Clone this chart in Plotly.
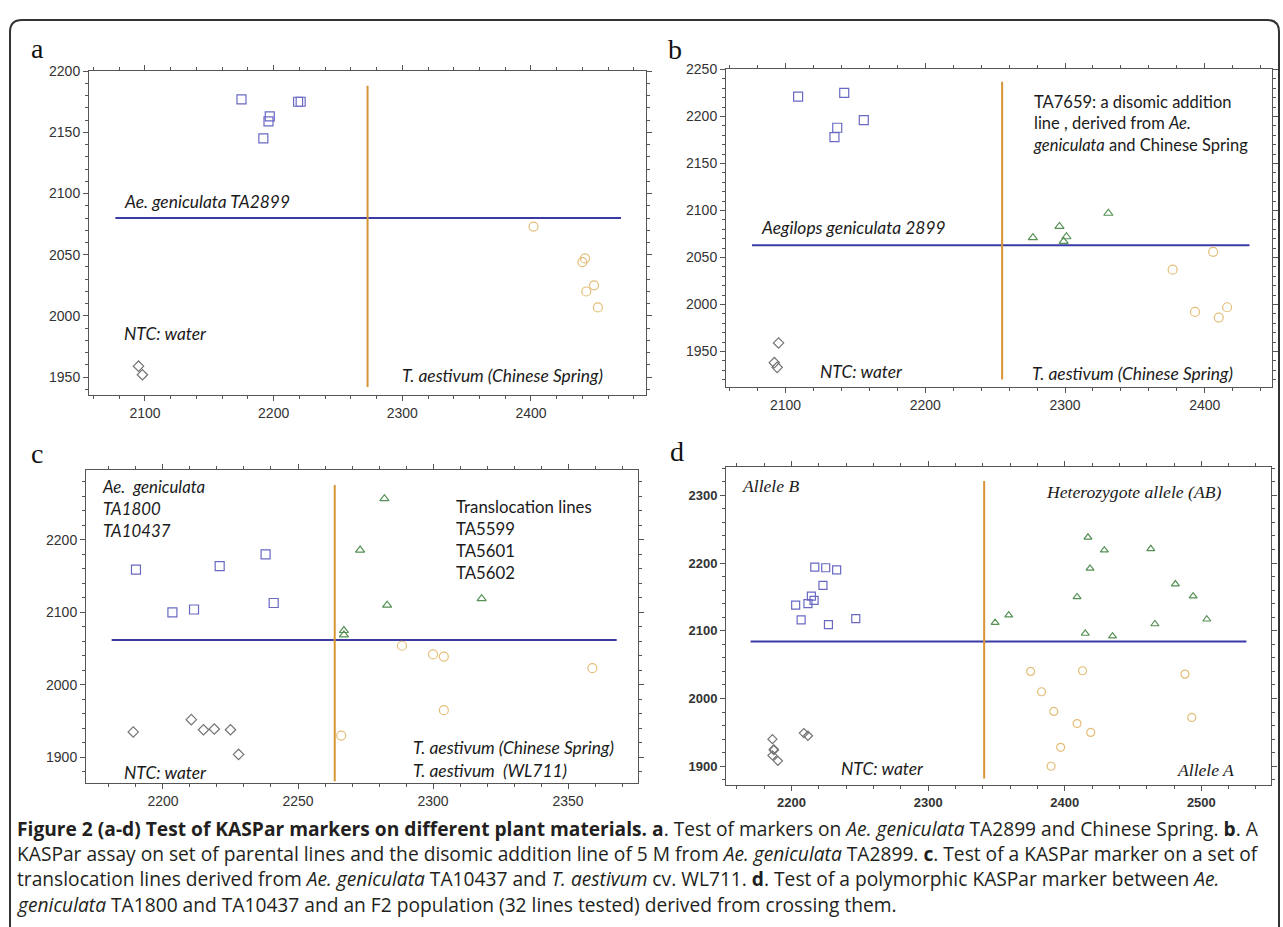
import plotly.graph_objects as go

W, H = 1283, 927

# ---------------- data ----------------
# Panel a
a_sq_x = [2175, 2197, 2196, 2192, 2219, 2221]
a_sq_y = [2177, 2163, 2159, 2145, 2175, 2175]
a_ci_x = [2402, 2442, 2440, 2449, 2443, 2452]
a_ci_y = [2073, 2047, 2044, 2025, 2020, 2007]
a_di_x = [2095, 2098]
a_di_y = [1959, 1952]
a_hline_x = [2077, 2470]
a_hline_y = 2080
a_vline_x = 2273
a_vline_y = [1942, 2188]

# Panel b
b_sq_x = [2109, 2142, 2156, 2137, 2135]
b_sq_y = [2221, 2225, 2196, 2188, 2178]
b_tr_x = [2277, 2296, 2301, 2299, 2331]
b_tr_y = [2071, 2083, 2072, 2067, 2097]
b_ci_x = [2406, 2377, 2393, 2410, 2416]
b_ci_y = [2056, 2037, 1992, 1986, 1997]
b_di_x = [2095, 2092, 2094]
b_di_y = [1959, 1938, 1933]
b_hline_x = [2076, 2432]
b_hline_y = 2063
b_vline_x = 2255
b_vline_y = [1920, 2237]

# Panel c
c_sq_x = [2190, 2203.5, 2211.5, 2221, 2238, 2241]
c_sq_y = [2159, 2100, 2104, 2164, 2180, 2113]
c_tr_x = [2282, 2273, 2283, 2318, 2267, 2267]
c_tr_y = [2257, 2186, 2110, 2119, 2075, 2069]
c_ci_x = [2288.5, 2300, 2304, 2359, 2304, 2266]
c_ci_y = [2054, 2042, 2039, 2023, 1965, 1930]
c_di_x = [2189, 2210.5, 2215, 2219, 2225, 2228]
c_di_y = [1935, 1952, 1938, 1939, 1938, 1904]
c_hline_x = [2181, 2368]
c_hline_y = 2062
c_vline_x = 2263.6
c_vline_y = [1867, 2276]

# Panel d
d_sq_x = [2217, 2225, 2233, 2223, 2214.5, 2216.5, 2212, 2203, 2207, 2227, 2247]
d_sq_y = [2194, 2193, 2190, 2167, 2151, 2145, 2140, 2138, 2116, 2109, 2118]
d_tr_x = [2417, 2429, 2463, 2418.5, 2481, 2409, 2494, 2359, 2504, 2349, 2415, 2435, 2466]
d_tr_y = [2238, 2219, 2221, 2192, 2169, 2150, 2151, 2123, 2117, 2112, 2096, 2092, 2110]
d_ci_x = [2375, 2413, 2488, 2383, 2392, 2493, 2409, 2419, 2397, 2390]
d_ci_y = [2040, 2041, 2036, 2010, 1981, 1972, 1963, 1950, 1928, 1900]
d_di_x = [2186, 2187, 2187, 2186, 2190, 2209, 2212]
d_di_y = [1940, 1925, 1924, 1916, 1908, 1949, 1945]
d_hline_x = [2170, 2533]
d_hline_y = 2084
d_vline_x = 2341
d_vline_y = [1882, 2321]

caption_lines = [
    "<b>Figure 2 (a-d) Test of KASPar markers on different plant materials. a</b>. Test of markers on <i>Ae. geniculata</i> TA2899 and Chinese Spring. <b>b</b>. A",
    "KASPar assay on set of parental lines and the disomic addition line of 5 M from <i>Ae. geniculata</i> TA2899. <b>c</b>. Test of a KASPar marker on a set of",
    "translocation lines derived from <i>Ae. geniculata</i> TA10437 and <i>T. aestivum</i> cv. WL711. <b>d</b>. Test of a polymorphic KASPar marker between <i>Ae.</i>",
    "<i>geniculata</i> TA1800 and TA10437 and an F2 population (32 lines tested) derived from crossing them.",
]

# ---------------- styles ----------------
SQ_C = "rgb(105,105,195)"
TR_C = "rgb(85,145,85)"
CI_C = "rgb(228,190,120)"
DI_C = "rgb(115,115,115)"
BLUE = "rgb(58,58,165)"
ORANGE = "rgb(215,148,55)"
AX_C = "#555555"
SANS = "Lato, Open Sans, sans-serif"
SERIF = "Liberation Serif, Times New Roman, serif"


def px(x):
    return x / W


def py(y):
    return 1 - y / H


fig = go.Figure()

panels = {
    "a": dict(n="", box=(89, 646, 64, 391), xr=(2056.5, 2489.4), yr=(1935.4, 2200.5),
              xd=100, xm=20, yd=50, ym=10, tf=dict(family="Liberation Sans, Arial", size=14, color="#333")),
    "b": dict(n="2", box=(726, 1272, 62, 383), xr=(2057.4, 2448.1), yr=(1912.0, 2251.0),
              xd=100, xm=20, yd=50, ym=10, tf=dict(family="Liberation Sans, Arial", size=14, color="#333")),
    "c": dict(n="3", box=(86, 638, 467, 782), xr=(2171.5, 2375.9), yr=(1864.4, 2295.9),
              xd=50, xm=10, yd=100, ym=20, tf=dict(family="Liberation Sans, Arial", size=14, color="#333")),
    "d": dict(n="4", box=(726, 1271, 463, 784), xr=(2152.0, 2551.0), yr=(1872.2, 2342.5),
              xd=100, xm=20, yd=100, ym=20, tf=dict(family="Liberation Sans, Arial", size=13, color="#333", weight="bold")),
}

for key, p in panels.items():
    l, r, t, b = p["box"]
    xa = "xaxis" + p["n"]
    ya = "yaxis" + p["n"]
    common = dict(showline=True, linecolor=AX_C, linewidth=1, mirror="allticks",
                  ticks="outside", ticklen=5, tickcolor=AX_C, tickwidth=1,
                  showgrid=False, zeroline=False, tickfont=p["tf"], fixedrange=True)
    fig.layout[xa] = dict(domain=[px(l), px(r)], range=list(p["xr"]), dtick=p["xd"], tick0=0,
                          anchor="y" + p["n"],
                          minor=dict(dtick=p["xm"], tick0=0, ticks="outside", ticklen=3, tickcolor=AX_C),
                          **common)
    fig.layout[ya] = dict(domain=[py(b), py(t)], range=list(p["yr"]), dtick=p["yd"], tick0=0,
                          anchor="x" + p["n"],
                          minor=dict(dtick=p["ym"], tick0=0, ticks="outside", ticklen=3, tickcolor=AX_C),
                          **common)


def add_panel(n, hx, hy, vx, vy, series):
    xr, yr = "x" + n, "y" + n
    fig.add_trace(go.Scatter(x=hx, y=[hy, hy], mode="lines", line=dict(color=BLUE, width=2),
                             xaxis=xr, yaxis=yr, hoverinfo="skip"))
    fig.add_trace(go.Scatter(x=[vx, vx], y=vy, mode="lines", line=dict(color=ORANGE, width=2),
                             xaxis=xr, yaxis=yr, hoverinfo="skip"))
    for xs, ys, sym, col, size in series:
        fig.add_trace(go.Scatter(x=xs, y=ys, mode="markers", xaxis=xr, yaxis=yr,
                                 marker=dict(symbol=sym, size=size, color=col,
                                             line=dict(color=col, width=1.2))))


add_panel("", a_hline_x, a_hline_y, a_vline_x, a_vline_y, [
    (a_sq_x, a_sq_y, "square-open", SQ_C, 9),
    (a_ci_x, a_ci_y, "circle-open", CI_C, 9),
    (a_di_x, a_di_y, "diamond-open", DI_C, 8),
])
add_panel("2", b_hline_x, b_hline_y, b_vline_x, b_vline_y, [
    (b_sq_x, b_sq_y, "square-open", SQ_C, 9),
    (b_tr_x, b_tr_y, "triangle-up-open", TR_C, 8),
    (b_ci_x, b_ci_y, "circle-open", CI_C, 9),
    (b_di_x, b_di_y, "diamond-open", DI_C, 8),
])
add_panel("3", c_hline_x, c_hline_y, c_vline_x, c_vline_y, [
    (c_sq_x, c_sq_y, "square-open", SQ_C, 9),
    (c_tr_x, c_tr_y, "triangle-up-open", TR_C, 8),
    (c_ci_x, c_ci_y, "circle-open", CI_C, 9),
    (c_di_x, c_di_y, "diamond-open", DI_C, 8),
])
add_panel("4", d_hline_x, d_hline_y, d_vline_x, d_vline_y, [
    (d_sq_x, d_sq_y, "square-open", SQ_C, 8),
    (d_tr_x, d_tr_y, "triangle-up-open", TR_C, 7),
    (d_ci_x, d_ci_y, "circle-open", CI_C, 8),
    (d_di_x, d_di_y, "diamond-open", DI_C, 7),
])

ann = []
IT = 17.4   # italic sans size
UP = 16.5   # upright sans size


def note(text, x, y, n, xanchor="left", font=SANS, size=IT):
    ann.append(dict(text=text, x=x, y=y, xref="x" + n, yref="y" + n, xanchor=xanchor,
                    yanchor="middle", align="left", showarrow=False,
                    font=dict(family=font, size=size, color="#1a1a1a")))


# panel a texts
note("<i>Ae. geniculata TA2899</i>", 2082, 2093.5, "")
note("<i>NTC: water</i>", 2082, 1985.5, "")
note("<i>T. aestivum (Chinese Spring)</i>", 2298, 1951, "")
# panel b texts
note("TA7659: a disomic addition<br>line , derived from <i>Ae.</i><br><i>geniculata</i> and Chinese Spring",
     2275.6, 2192, "2", size=UP)
note("<i>Aegilops geniculata 2899</i>", 2081, 2082, "2")
note("<i>NTC: water</i>", 2123, 1929, "2")
note("<i>T. aestivum (Chinese Spring)</i>", 2275, 1926, "2")
# panel c texts
note("<i>Ae.  geniculata<br>TA1800<br>TA10437</i>", 2176.7, 2244, "3", size=16.8)
note("Translocation lines<br>TA5599<br>TA5601<br>TA5602", 2307.7, 2201, "3", size=16.8)
note("<i>T. aestivum (Chinese Spring)<br>T. aestivum \u00a0(WL711)</i>", 2292, 1897, "3")
note("<i>NTC: water</i>", 2184.7, 1878.5, "3")
# panel d texts
note("<i>Allele B</i>", 2162.5, 2313, "4", font=SERIF, size=17.6)
note("<i>Heterozygote allele (AB)</i>", 2384.6, 2305, "4", font=SERIF, size=17.6)
note("<i>NTC: water</i>", 2235, 1897, "4")
note("<i>Allele A</i>", 2525.5, 1894.6, "4", xanchor="right", font=SERIF, size=17.6)

# panel letters
for letter, lx, ly in [("a", 37, 42), ("b", 675, 43), ("c", 37, 450), ("d", 677, 448)]:
    ann.append(dict(text=letter, x=px(lx), y=py(ly), xref="paper", yref="paper",
                    xanchor="center", yanchor="middle", showarrow=False,
                    font=dict(family=SERIF, size=28, color="#111")))

# caption
for i, line in enumerate(caption_lines):
    ann.append(dict(text=line, x=px(15), y=py(828 + 25.3 * i), xref="paper", yref="paper",
                    xanchor="left", yanchor="middle", align="left", showarrow=False,
                    font=dict(family="Open Sans, sans-serif", size=19.2, color="#231f20")))

# outer rounded frame
x0, y0, x1, y1, rr = 10, 13, 1279, 945, 12
path = (f"M {px(x0 + rr)} {py(y0)} L {px(x1 - rr)} {py(y0)} "
        f"Q {px(x1)} {py(y0)} {px(x1)} {py(y0 + rr)} L {px(x1)} {py(y1 - rr)} "
        f"Q {px(x1)} {py(y1)} {px(x1 - rr)} {py(y1)} L {px(x0 + rr)} {py(y1)} "
        f"Q {px(x0)} {py(y1)} {px(x0)} {py(y1 - rr)} L {px(x0)} {py(y0 + rr)} "
        f"Q {px(x0)} {py(y0)} {px(x0 + rr)} {py(y0)} Z")

fig.update_layout(
    width=W, height=H, margin=dict(l=0, r=0, t=0, b=0),
    paper_bgcolor="white", plot_bgcolor="white", showlegend=False,
    annotations=ann,
    shapes=[dict(type="path", path=path, xref="paper", yref="paper",
                 line=dict(color="#333", width=2), layer="above")],
)

fig.write_html("out.html", config={"displayModeBar": False},
               post_script="document.body.style.margin='0';document.body.style.overflow='hidden';")
